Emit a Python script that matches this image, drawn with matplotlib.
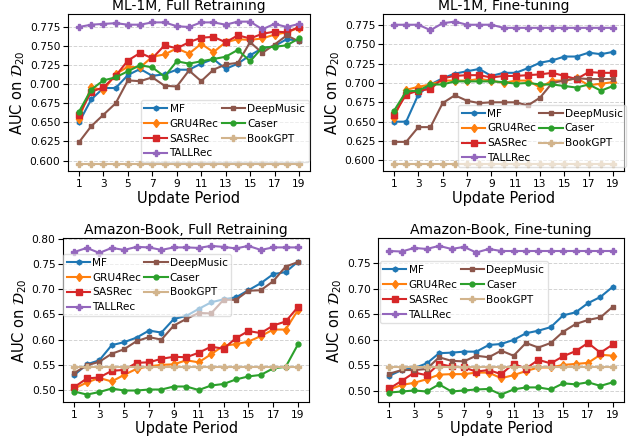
import numpy as np
import matplotlib
matplotlib.use('Agg')
import matplotlib.pyplot as plt
from matplotlib.ticker import MultipleLocator, FormatStrFormatter

# ---------------------------------------------------------------------------
# Data (AUC on D20 per update period)
# ---------------------------------------------------------------------------

periods = list(range(1, 20))
xticks = [1, 3, 5, 7, 9, 11, 13, 15, 17, 19]

# ML-1M, Full Retraining
ml_full_mf = [0.650, 0.680, 0.695, 0.695, 0.712, 0.720, 0.711, 0.713, 0.719, 0.719,
              0.727, 0.733, 0.720, 0.727, 0.738, 0.747, 0.750, 0.759, 0.757]
ml_full_gru = [0.655, 0.696, 0.692, 0.713, 0.723, 0.722, 0.736, 0.739, 0.747, 0.740,
               0.753, 0.742, 0.755, 0.759, 0.758, 0.760, 0.765, 0.768, 0.774]
ml_full_sas = [0.660, 0.690, 0.696, 0.711, 0.731, 0.741, 0.734, 0.751, 0.747, 0.755,
               0.761, 0.762, 0.755, 0.764, 0.760, 0.766, 0.769, 0.768, 0.775]
ml_full_tall = [0.775, 0.778, 0.779, 0.780, 0.778, 0.778, 0.781, 0.781, 0.776, 0.775,
                0.781, 0.781, 0.778, 0.782, 0.782, 0.772, 0.779, 0.775, 0.779]
ml_full_deep = [0.624, 0.645, 0.660, 0.675, 0.705, 0.704, 0.709, 0.698, 0.697, 0.718,
                0.704, 0.719, 0.726, 0.728, 0.755, 0.741, 0.752, 0.764, 0.756]
ml_full_caser = [0.664, 0.693, 0.705, 0.709, 0.717, 0.725, 0.722, 0.710, 0.730, 0.727,
                 0.730, 0.733, 0.736, 0.745, 0.730, 0.748, 0.749, 0.751, 0.760]
ml_full_book = [0.595] * 19

# ML-1M, Fine-tuning
ml_ft_mf = [0.650, 0.650, 0.685, 0.698, 0.706, 0.712, 0.715, 0.718, 0.709, 0.713,
            0.713, 0.719, 0.726, 0.729, 0.734, 0.734, 0.739, 0.737, 0.740]
ml_ft_gru = [0.655, 0.691, 0.695, 0.698, 0.703, 0.703, 0.703, 0.705, 0.703, 0.700,
             0.703, 0.703, 0.694, 0.703, 0.703, 0.706, 0.697, 0.699, 0.701]
ml_ft_sas = [0.659, 0.685, 0.690, 0.692, 0.706, 0.709, 0.710, 0.710, 0.707, 0.709,
             0.709, 0.710, 0.711, 0.713, 0.709, 0.705, 0.714, 0.713, 0.713]
ml_ft_tall = [0.775, 0.775, 0.775, 0.768, 0.777, 0.779, 0.775, 0.775, 0.775, 0.771,
              0.771, 0.771, 0.771, 0.771, 0.771, 0.771, 0.771, 0.771, 0.771]
ml_ft_deep = [0.624, 0.624, 0.643, 0.643, 0.674, 0.684, 0.677, 0.674, 0.675, 0.675,
              0.675, 0.671, 0.681, 0.700, 0.703, 0.706, 0.705, 0.705, 0.705]
ml_ft_caser = [0.664, 0.689, 0.690, 0.698, 0.698, 0.702, 0.702, 0.702, 0.702, 0.701,
               0.699, 0.700, 0.698, 0.698, 0.696, 0.694, 0.698, 0.690, 0.696]
ml_ft_book = [0.595] * 19

# Amazon-Book, Full Retraining
ab_full_mf = [0.530, 0.551, 0.559, 0.589, 0.595, 0.604, 0.618, 0.614, 0.641, 0.647,
              0.661, 0.674, 0.680, 0.684, 0.698, 0.712, 0.730, 0.734, 0.755]
ab_full_gru = [0.503, 0.515, 0.524, 0.517, 0.530, 0.542, 0.547, 0.550, 0.551, 0.559,
               0.555, 0.571, 0.588, 0.591, 0.596, 0.607, 0.620, 0.620, 0.659]
ab_full_sas = [0.506, 0.523, 0.525, 0.538, 0.540, 0.554, 0.555, 0.562, 0.566, 0.565,
               0.574, 0.586, 0.582, 0.603, 0.617, 0.613, 0.628, 0.636, 0.665]
ab_full_tall = [0.774, 0.782, 0.772, 0.782, 0.778, 0.784, 0.783, 0.778, 0.783, 0.783,
                0.782, 0.786, 0.784, 0.781, 0.786, 0.778, 0.783, 0.783, 0.783]
ab_full_deep = [0.534, 0.549, 0.556, 0.572, 0.581, 0.597, 0.605, 0.600, 0.628, 0.641,
                0.653, 0.652, 0.679, 0.679, 0.697, 0.698, 0.716, 0.745, 0.754]
ab_full_caser = [0.497, 0.491, 0.496, 0.503, 0.499, 0.499, 0.501, 0.501, 0.507, 0.507,
                 0.500, 0.509, 0.512, 0.521, 0.527, 0.530, 0.543, 0.546, 0.591]
ab_full_book = [0.546] * 19

# Amazon-Book, Fine-tuning
ab_ft_mf = [0.530, 0.541, 0.545, 0.554, 0.574, 0.575, 0.577, 0.577, 0.590, 0.592,
            0.600, 0.613, 0.618, 0.625, 0.648, 0.654, 0.672, 0.684, 0.704]
ab_ft_gru = [0.503, 0.512, 0.516, 0.523, 0.532, 0.533, 0.533, 0.536, 0.536, 0.525,
             0.531, 0.539, 0.546, 0.546, 0.551, 0.553, 0.555, 0.571, 0.569]
ab_ft_sas = [0.505, 0.520, 0.536, 0.531, 0.553, 0.548, 0.546, 0.538, 0.541, 0.533,
             0.553, 0.544, 0.561, 0.554, 0.568, 0.578, 0.594, 0.575, 0.591]
ab_ft_tall = [0.774, 0.773, 0.780, 0.778, 0.784, 0.778, 0.782, 0.771, 0.778, 0.774,
              0.774, 0.774, 0.774, 0.774, 0.774, 0.774, 0.774, 0.774, 0.774]
ab_ft_deep = [0.534, 0.541, 0.541, 0.543, 0.566, 0.559, 0.558, 0.569, 0.566, 0.579,
              0.569, 0.594, 0.585, 0.594, 0.616, 0.631, 0.639, 0.644, 0.665]
ab_ft_caser = [0.497, 0.499, 0.501, 0.499, 0.513, 0.499, 0.501, 0.503, 0.504, 0.493,
               0.503, 0.507, 0.507, 0.503, 0.515, 0.513, 0.517, 0.510, 0.517]
ab_ft_book = [0.546] * 19

# ---------------------------------------------------------------------------
# Styles (plot order gives the legend's column-wise order)
# ---------------------------------------------------------------------------

styles = [
    ('MF',        'tab:blue',   'h', 3.5),
    ('GRU4Rec',   'tab:orange', 'd', 4.5),
    ('SASRec',    'tab:red',    's', 4.0),
    ('TALLRec',   'tab:purple', 'P', 5.0),
    ('DeepMusic', 'tab:brown',  's', 3.0),
    ('Caser',     'tab:green',  'o', 3.5),
    ('BookGPT',   'tan',        'P', 5.0),
]

panels = [
    ('ML-1M, Full Retraining',
     [ml_full_mf, ml_full_gru, ml_full_sas, ml_full_tall, ml_full_deep, ml_full_caser, ml_full_book],
     [0.1064, 0.612, 0.3787, 0.3552], 0.025, '%.3f',
     dict(loc='lower right', bbox_to_anchor=(0.995, 0.06))),
    ('ML-1M, Fine-tuning',
     [ml_ft_mf, ml_ft_gru, ml_ft_sas, ml_ft_tall, ml_ft_deep, ml_ft_caser, ml_ft_book],
     [0.5994, 0.612, 0.3772, 0.3552], 0.025, '%.3f',
     dict(loc='lower right', bbox_to_anchor=(1.01, 0.03))),
    ('Amazon-Book, Full Retraining',
     [ab_full_mf, ab_full_gru, ab_full_sas, ab_full_tall, ab_full_deep, ab_full_caser, ab_full_book],
     [0.099, 0.0905, 0.385, 0.370], 0.05, '%.2f',
     dict(loc='upper left', bbox_to_anchor=(0.0, 0.905))),
    ('Amazon-Book, Fine-tuning',
     [ab_ft_mf, ab_ft_gru, ab_ft_sas, ab_ft_tall, ab_ft_deep, ab_ft_caser, ab_ft_book],
     [0.592, 0.0905, 0.3845, 0.370], 0.05, '%.2f',
     dict(loc='upper left', bbox_to_anchor=(0.005, 0.86))),
]

fig = plt.figure(figsize=(6.39, 4.42), dpi=100)

for title, series, rect, ystep, yfmt, leg_kw in panels:
    ax = fig.add_axes(rect)
    for (name, color, marker, ms), vals in zip(styles, series):
        ax.plot(periods, vals, color=color, marker=marker, markersize=ms,
                lw=1.5, label=name)
    ax.set_title(title, fontsize=10, pad=3)
    ax.set_xlabel('Update Period', fontsize=10.5, labelpad=1)
    ax.set_ylabel(r'AUC on $\mathcal{D}_{20}$', fontsize=10.5, labelpad=2)
    ax.set_xticks(xticks)
    ax.yaxis.set_major_locator(MultipleLocator(ystep))
    ax.yaxis.set_major_formatter(FormatStrFormatter(yfmt))
    ax.tick_params(labelsize=7.7, pad=2)
    ax.grid(True, axis='y', linestyle='--', color='lightgray', lw=0.7)
    ax.legend(ncol=2, fontsize=7.6, handlelength=2.2, columnspacing=0.3,
              handletextpad=0.2, labelspacing=0.46, borderpad=0.35,
              borderaxespad=0.0, framealpha=0.6, **leg_kw)

plt.savefig('out.png', dpi=100)
